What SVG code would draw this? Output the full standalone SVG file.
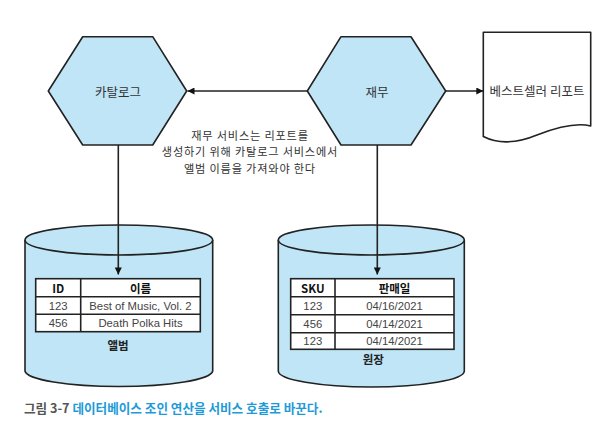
<svg xmlns="http://www.w3.org/2000/svg" width="611" height="435" viewBox="0 0 611 435">
<defs>
<style>
.shape{fill:#bfe5f6;stroke:#222;stroke-width:1.6;stroke-linejoin:round}
.doc{fill:#fff;stroke:#222;stroke-width:1.6;stroke-linejoin:round}
.line{fill:none;stroke:#222;stroke-width:1.6}
.tbl{fill:#fff;stroke:#222;stroke-width:1.6}
.sep{stroke:#222;stroke-width:1.6}
text{font-family:"Noto Sans CJK KR","Liberation Sans",sans-serif;text-anchor:middle;dominant-baseline:central}
.lbl{font-size:12.5px;fill:#333}
.note{font-size:11.2px;letter-spacing:0.8px;fill:#333}
.th{font-size:11.5px;font-weight:bold;fill:#111}
.td{font-size:11.3px;fill:#444;font-family:"Liberation Sans","Noto Sans CJK KR",sans-serif}
.db{font-size:11.5px;font-weight:bold;fill:#222}
.cap{font-size:12.6px;font-weight:bold;text-anchor:start;dominant-baseline:auto}
</style>
<marker id="ah" viewBox="0 0 10 10" refX="10" refY="5" markerWidth="9" markerHeight="7" markerUnits="userSpaceOnUse" orient="auto">
<path d="M0,0 L10,5 L0,10 Z" fill="#111"/>
</marker>
</defs>
<rect width="611" height="435" fill="#fff"/>

<g id="album-db">
<path class="shape" d="M25,240 V371 A93.9,16 0 0 0 212.7,371 V240"/>
<ellipse class="shape" cx="118.85" cy="240" rx="93.85" ry="15"/>
<rect class="tbl" x="35.7" y="278.7" width="164.6" height="53"/>
<line class="sep" x1="35.7" y1="296.7" x2="200.3" y2="296.7"/>
<line class="sep" x1="35.7" y1="314.3" x2="200.3" y2="314.3"/>
<line class="sep" x1="80.7" y1="278.7" x2="80.7" y2="331.7"/>
<text class="th" x="58.2" y="287.7">ID</text>
<text class="th" x="140.5" y="287.7">이름</text>
<text class="td" x="58.2" y="305.5">123</text>
<text class="td" x="140.5" y="305.5">Best of Music, Vol. 2</text>
<text class="td" x="58.2" y="323">456</text>
<text class="td" x="140.5" y="323">Death Polka Hits</text>
<text class="db" x="118" y="345">앨범</text>
</g>

<g id="ledger-db">
<path class="shape" d="M278.3,240 V371 A93,16 0 0 0 464.3,371 V240"/>
<ellipse class="shape" cx="371.3" cy="240" rx="93" ry="15"/>
<rect class="tbl" x="290.7" y="278.7" width="163.3" height="70.6"/>
<line class="sep" x1="290.7" y1="296.7" x2="454" y2="296.7"/>
<line class="sep" x1="290.7" y1="314.7" x2="454" y2="314.7"/>
<line class="sep" x1="290.7" y1="332.7" x2="454" y2="332.7"/>
<line class="sep" x1="335" y1="278.7" x2="335" y2="349.3"/>
<text class="th" x="312.8" y="287.7">SKU</text>
<text class="th" x="394.5" y="287.7">판매일</text>
<text class="td" x="312.8" y="305.7">123</text>
<text class="td" x="394.5" y="305.7">04/16/2021</text>
<text class="td" x="312.8" y="323.7">456</text>
<text class="td" x="394.5" y="323.7">04/14/2021</text>
<text class="td" x="312.8" y="341">123</text>
<text class="td" x="394.5" y="341">04/14/2021</text>
<text class="db" x="373.3" y="359.3">원장</text>
</g>

<g id="catalog">
<polygon class="shape" points="48.3,91 82.7,36.7 152.7,36.7 186.7,91 152.7,145 82.7,145"/>
<text class="lbl" x="118" y="91">카탈로그</text>
</g>

<g id="finance">
<polygon class="shape" points="307.3,91 341,36.7 411,36.7 445.7,91 411,145 341,145"/>
<text class="lbl" x="377" y="91">재무</text>
</g>

<g id="report">
<path class="doc" d="M483.3,32.3 H590.7 V126 C575,122 555,128 537,135 C520,142 500,145 483.3,136.5 Z"/>
<text class="lbl" x="537" y="90">베스트셀러 리포트</text>
</g>

<g id="connectors">
<line class="line" x1="307.3" y1="91" x2="187.5" y2="91" marker-end="url(#ah)"/>
<line class="line" x1="445.7" y1="91" x2="483.3" y2="91" marker-end="url(#ah)"/>
<line class="line" x1="118.3" y1="145" x2="118.3" y2="274.5" marker-end="url(#ah)"/>
<line class="line" x1="377.3" y1="145" x2="377.3" y2="274.5" marker-end="url(#ah)"/>
</g>

<g id="note">
<text class="note" x="250" y="134.5">재무 서비스는 리포트를</text>
<text class="note" x="250" y="151">생성하기 위해 카탈로그 서비스에서</text>
<text class="note" x="250" y="167.5">앨범 이름을 가져와야 한다</text>
</g>

<g id="caption">
<text class="cap" x="24" y="413"><tspan fill="#555">그림 3-7</tspan><tspan fill="#1e9bd7"> 데이터베이스 조인 연산을 서비스 호출로 바꾼다.</tspan></text>
</g>
</svg>
